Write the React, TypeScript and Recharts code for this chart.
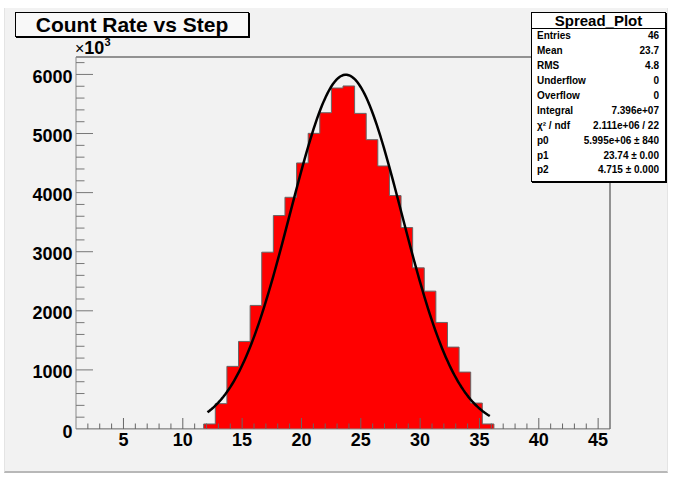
import React from 'react';
import { ComposedChart, Area, Line, XAxis, YAxis, ReferenceLine } from 'recharts';

// histogram "Spread_Plot": 46 bins between 1 and 46, counts in units of 10^3
const binLow = 1;
const binHigh = 46;
const binCounts = [
  0, 0, 0, 0, 0, 0, 0, 0, 0, 0, 0,
  85, 429, 1060, 1482, 2091, 2992, 3612, 3921, 4502, 5003, 5352, 5770, 5805,
  5341, 4896, 4451, 3950, 3409, 2727, 2333, 1803, 1386, 963, 439, 85,
  0, 0, 0, 0, 0, 0, 0, 0, 0, 0,
];

// gaussian fit parameters (p0 in units of 10^3) and the fit range
const p0 = 5995;
const p1 = 23.74;
const p2 = 4.715;
const fitMin = 12.08;
const fitMax = 35.87;

const yMax = 6295;
const xMajorTicks = [5, 10, 15, 20, 25, 30, 35, 40, 45];
const yMajorTicks = [0, 1000, 2000, 3000, 4000, 5000, 6000];

const statLabels = ['Entries', 'Mean', 'RMS', 'Underflow', 'Overflow', 'Integral', 'χ² / ndf', 'p0', 'p1', 'p2'];
const statValues = ['46', '23.7', '4.8', '0', '0', '7.396e+07', '2.111e+06 / 22', '5.995e+06 ± 840', '23.74 ± 0.00', '4.715 ± 0.000'];

const FONT = '"Liberation Sans", Arial, Helvetica, sans-serif';

const binWidth = (binHigh - binLow) / binCounts.length;
const histData = [
  ...binCounts.map((c, i) => ({ x: binLow + i * binWidth, y: c })),
  { x: binHigh, y: 0 },
];

const fitSteps = 160;
const fitData = Array.from({ length: fitSteps + 1 }, (_, i) => {
  const x = fitMin + ((fitMax - fitMin) * i) / fitSteps;
  return { x, y: p0 * Math.exp(-0.5 * ((x - p1) / p2) ** 2) };
});

const xTicks = Array.from({ length: 44 }, (_, i) => i + 2);
const yTicks = Array.from({ length: 32 }, (_, i) => i * 200);

function XTick({ x, y, payload }: any) {
  const v = payload.value;
  const major = xMajorTicks.includes(v);
  return (
    <g>
      <line x1={x} y1={y} x2={x} y2={y - (major ? 11 : 5.5)} stroke="#666" />
      {major && (
        <text x={x} y={y + 17} textAnchor="middle" fontSize={18} fontWeight="bold" fontFamily={FONT} fill="#000">
          {v}
        </text>
      )}
    </g>
  );
}

function YTick({ x, y, payload }: any) {
  const v = payload.value;
  const major = yMajorTicks.includes(v);
  return (
    <g>
      {v > 0 && <line x1={x} y1={y} x2={x + (major ? 17 : 8.5)} y2={y} stroke="#777" />}
      {major && (
        <text x={x - 3.5} y={y + 8.5} textAnchor="end" fontSize={18} fontWeight="bold" fontFamily={FONT} fill="#000">
          {v}
        </text>
      )}
    </g>
  );
}

export default function App() {
  return (
    <div style={{ position: 'absolute', left: 0, top: 0, width: 675, height: 478, background: '#fff', fontFamily: FONT }}>
      <div
        style={{
          position: 'absolute', left: 4, top: 8, width: 662, height: 463,
          background: '#f2f2f2', borderLeft: '1px solid #e4e4e4', borderBottom: '2px solid #b8b8b8', borderRight: '1px solid #e4e4e4',
        }}
      />
      <div style={{ position: 'absolute', left: 0, top: 0 }}>
        <ComposedChart width={675} height={478} margin={{ top: 57, right: 65, bottom: 0, left: 0 }}>
          <ReferenceLine y={yMax} stroke="#333" ifOverflow="extendDomain" />
          <ReferenceLine x={binHigh} stroke="#333" ifOverflow="extendDomain" />
          <Area
            data={histData}
            dataKey="y"
            type="stepAfter"
            fill="#ff0000"
            fillOpacity={1}
            stroke="#666"
            strokeWidth={1}
            isAnimationActive={false}
            dot={false}
            activeDot={false}
          />
          <Line
            data={fitData}
            dataKey="y"
            type="linear"
            stroke="#000"
            strokeWidth={2.5}
            dot={false}
            activeDot={false}
            isAnimationActive={false}
          />
          <XAxis
            dataKey="x"
            type="number"
            domain={[binLow, binHigh]}
            allowDataOverflow
            ticks={xTicks}
            interval={0}
            tickSize={0}
            tickMargin={0}
            tickLine={false}
            tick={<XTick />}
            axisLine={{ stroke: '#888' }}
            height={49}
          />
          <YAxis
            type="number"
            domain={[0, yMax]}
            allowDataOverflow
            ticks={yTicks}
            interval={0}
            tickSize={0}
            tickMargin={0}
            tickLine={false}
            tick={<YTick />}
            axisLine={{ stroke: '#888' }}
            width={76}
          />
        </ComposedChart>
      </div>

      {/* title box */}
      <div
        style={{
          position: 'absolute', left: 15, top: 12, width: 232, height: 23,
          border: '1px solid #000', boxShadow: '1px 1px 0 #000', background: '#f8f8f8',
          textAlign: 'center', lineHeight: '23px', fontSize: 21, fontWeight: 'bold', color: '#000',
        }}
      >
        Count Rate vs Step
      </div>

      {/* axis multiplier */}
      <div style={{ position: 'absolute', left: 75, top: 39, height: 18, lineHeight: '18px', color: '#000', whiteSpace: 'nowrap' }}>
        <span style={{ fontWeight: 'normal', fontSize: 16 }}>×</span>
        <span style={{ fontWeight: 'bold', fontSize: 18 }}>10</span>
        <span style={{ fontWeight: 'bold', fontSize: 11, position: 'relative', top: -8 }}>3</span>
      </div>

      {/* statistics box */}
      <div
        style={{
          position: 'absolute', left: 531, top: 12, width: 133, height: 168,
          border: '1px solid #000', boxShadow: '1px 1px 0 #000', background: '#fff', color: '#000',
        }}
      >
        <div style={{ height: 15, lineHeight: '16px', textAlign: 'center', fontSize: 15, fontWeight: 'bold', borderBottom: '1px solid #000' }}>
          Spread_Plot
        </div>
        {statLabels.map((label, i) => (
          <div
            key={label}
            style={{
              display: 'flex', justifyContent: 'space-between', height: 14.95, lineHeight: '14.95px',
              fontSize: 10, fontWeight: 'bold', padding: '0 6px 0 5px',
            }}
          >
            <span>{label}</span>
            <span>{statValues[i]}</span>
          </div>
        ))}
      </div>
    </div>
  );
}
